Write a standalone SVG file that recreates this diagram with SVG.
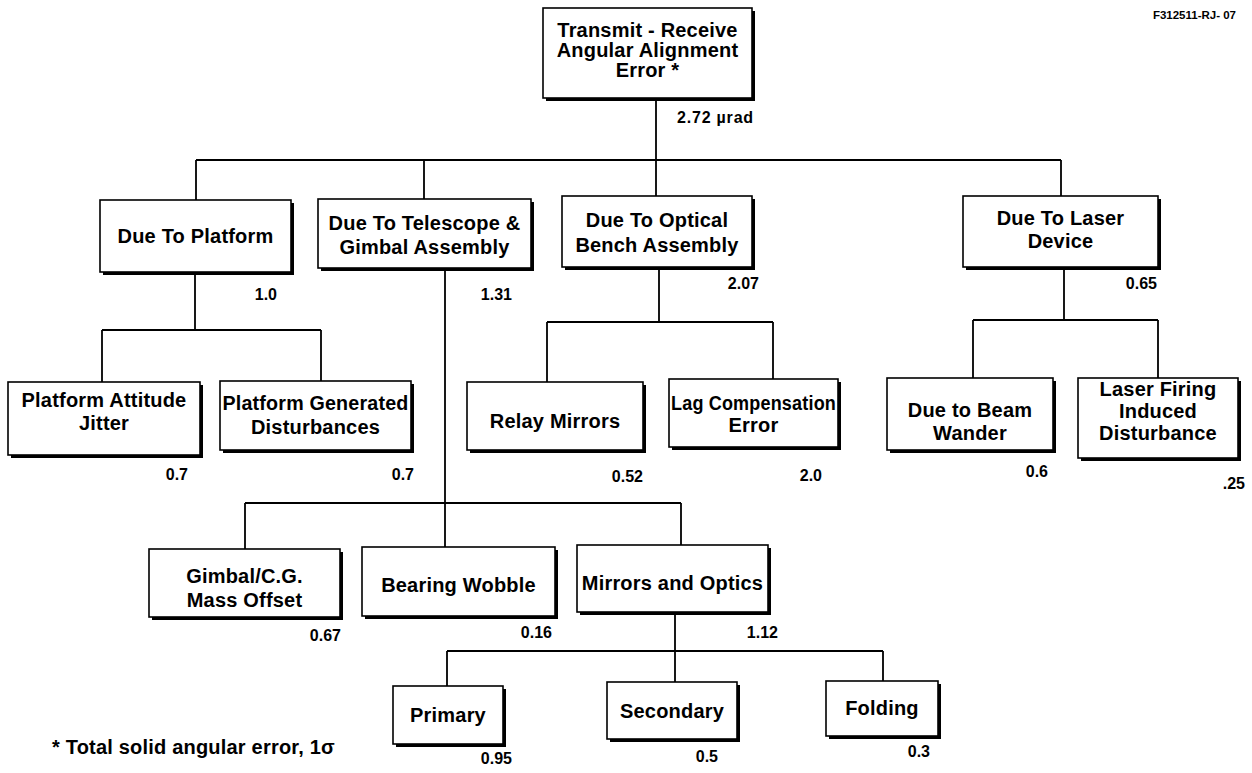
<svg xmlns="http://www.w3.org/2000/svg" width="1252" height="773" viewBox="0 0 1252 773">
  <style>
    .bx { fill: #fff; stroke: #000; stroke-width: 1.6; }
    .sh { fill: #000; }
    .t { font-family: "Liberation Sans", Arial, Helvetica, sans-serif; font-weight: bold; font-size: 20px; fill: #000; text-anchor: middle; letter-spacing: 0.2px; }
    .v { font-family: "Liberation Sans", Arial, Helvetica, sans-serif; font-weight: bold; font-size: 16px; fill: #000; text-anchor: end; }
    .c { fill: none; stroke: #000; stroke-width: 1.8; }
  </style>
  <rect width="1252" height="773" fill="#fff"/>

  <!-- tree connectors -->
  <g id="connectors" class="c">
    <path d="M656 98 V160 M196 160 H1061 M196 160 V200 M424 160 V199 M656 160 V196 M1061 160 V196"/>
    <path d="M195 272 V330 M102 330 H321 M102 330 V382 M321 330 V381"/>
    <path d="M445 268 V547 M245 503 H681 M245 503 V549 M681 503 V545"/>
    <path d="M659 267 V322 M547 322 H773 M547 322 V382 M773 322 V379"/>
    <path d="M1064 267 V320 M973 320 H1158 M973 320 V378 M1158 320 V378"/>
    <path d="M675 613 V651 M447 651 H883 M447 651 V686 M675 651 V682 M883 651 V681"/>
  </g>

  <g id="root">
    <rect class="sh" x="546" y="11" width="209" height="90"/>
    <rect class="bx" x="543" y="8" width="209" height="90"/>
    <text class="t" x="647.5" y="37">Transmit - Receive</text>
    <text class="t" x="647.5" y="57">Angular Alignment</text>
    <text class="t" x="647.5" y="77">Error *</text>
    <text class="v" x="677" y="123" style="text-anchor:start;letter-spacing:0.8px">2.72 µrad</text>
  </g>

  <g id="platform">
    <rect class="sh" x="103" y="203" width="191" height="72"/>
    <rect class="bx" x="100" y="200" width="191" height="72"/>
    <text class="t" x="195.5" y="243">Due To Platform</text>
    <text class="v" x="277" y="300">1.0</text>
  </g>

  <g id="telescope">
    <rect class="sh" x="321" y="202" width="213" height="69"/>
    <rect class="bx" x="318" y="199" width="213" height="69"/>
    <text class="t" x="424.5" y="230">Due To Telescope &amp;</text>
    <text class="t" x="424.5" y="254">Gimbal Assembly</text>
    <text class="v" x="512" y="300">1.31</text>
  </g>

  <g id="optical-bench">
    <rect class="sh" x="565" y="199" width="190" height="71"/>
    <rect class="bx" x="562" y="196" width="190" height="71"/>
    <text class="t" x="657" y="227">Due To Optical</text>
    <text class="t" x="657" y="252">Bench Assembly</text>
    <text class="v" x="759" y="289">2.07</text>
  </g>

  <g id="laser-device">
    <rect class="sh" x="966" y="199" width="195" height="71"/>
    <rect class="bx" x="963" y="196" width="195" height="71"/>
    <text class="t" x="1060.5" y="225">Due To Laser</text>
    <text class="t" x="1060.5" y="248">Device</text>
    <text class="v" x="1157" y="289">0.65</text>
  </g>

  <g id="attitude-jitter">
    <rect class="sh" x="11" y="385" width="192" height="73"/>
    <rect class="bx" x="8" y="382" width="192" height="73"/>
    <text class="t" x="104" y="407">Platform Attitude</text>
    <text class="t" x="104" y="430">Jitter</text>
    <text class="v" x="188" y="480">0.7</text>
  </g>

  <g id="generated-disturbances">
    <rect class="sh" x="223" y="384" width="191" height="69"/>
    <rect class="bx" x="220" y="381" width="191" height="69"/>
    <text class="t" x="315.5" y="410" textLength="186" lengthAdjust="spacingAndGlyphs">Platform Generated</text>
    <text class="t" x="315.5" y="434">Disturbances</text>
    <text class="v" x="414" y="480">0.7</text>
  </g>

  <g id="relay-mirrors">
    <rect class="sh" x="470" y="385" width="176" height="68"/>
    <rect class="bx" x="467" y="382" width="176" height="68"/>
    <text class="t" x="555" y="428">Relay Mirrors</text>
    <text class="v" x="643" y="482">0.52</text>
  </g>

  <g id="lag-compensation">
    <rect class="sh" x="672" y="382" width="169" height="68"/>
    <rect class="bx" x="669" y="379" width="169" height="68"/>
    <text class="t" x="753.5" y="410" textLength="165" lengthAdjust="spacingAndGlyphs">Lag Compensation</text>
    <text class="t" x="753.5" y="432">Error</text>
    <text class="v" x="822" y="481">2.0</text>
  </g>

  <g id="beam-wander">
    <rect class="sh" x="890" y="381" width="166" height="72"/>
    <rect class="bx" x="887" y="378" width="166" height="72"/>
    <text class="t" x="970" y="417">Due to Beam</text>
    <text class="t" x="970" y="440">Wander</text>
    <text class="v" x="1048" y="477">0.6</text>
  </g>

  <g id="laser-firing">
    <rect class="sh" x="1081" y="381" width="160" height="80"/>
    <rect class="bx" x="1078" y="378" width="160" height="80"/>
    <text class="t" x="1158" y="396">Laser Firing</text>
    <text class="t" x="1158" y="418">Induced</text>
    <text class="t" x="1158" y="440">Disturbance</text>
    <text class="v" x="1245" y="489">.25</text>
  </g>

  <g id="gimbal-offset">
    <rect class="sh" x="152" y="552" width="191" height="68"/>
    <rect class="bx" x="149" y="549" width="191" height="68"/>
    <text class="t" x="244.5" y="583">Gimbal/C.G.</text>
    <text class="t" x="244.5" y="607">Mass Offset</text>
    <text class="v" x="341" y="641">0.67</text>
  </g>

  <g id="bearing-wobble">
    <rect class="sh" x="365" y="550" width="193" height="69"/>
    <rect class="bx" x="362" y="547" width="193" height="69"/>
    <text class="t" x="458.5" y="592">Bearing Wobble</text>
    <text class="v" x="552" y="638">0.16</text>
  </g>

  <g id="mirrors-optics">
    <rect class="sh" x="580" y="548" width="191" height="67"/>
    <rect class="bx" x="577" y="545" width="191" height="67"/>
    <text class="t" x="672.5" y="590">Mirrors and Optics</text>
    <text class="v" x="778" y="638">1.12</text>
  </g>

  <g id="primary">
    <rect class="sh" x="396" y="689" width="110" height="58"/>
    <rect class="bx" x="393" y="686" width="110" height="58"/>
    <text class="t" x="448" y="722">Primary</text>
    <text class="v" x="512" y="764">0.95</text>
  </g>

  <g id="secondary">
    <rect class="sh" x="610" y="685" width="130" height="57"/>
    <rect class="bx" x="607" y="682" width="130" height="57"/>
    <text class="t" x="672" y="718">Secondary</text>
    <text class="v" x="718" y="762">0.5</text>
  </g>

  <g id="folding">
    <rect class="sh" x="829" y="684" width="112" height="55"/>
    <rect class="bx" x="826" y="681" width="112" height="55"/>
    <text class="t" x="882" y="715">Folding</text>
    <text class="v" x="930" y="757">0.3</text>
  </g>

  <g id="notes">
    <text class="t" x="52" y="754" style="text-anchor:start">* Total solid angular error, 1σ</text>
    <text class="v" x="1236" y="19" style="font-size:11.5px">F312511-RJ- 07</text>
  </g>
</svg>
